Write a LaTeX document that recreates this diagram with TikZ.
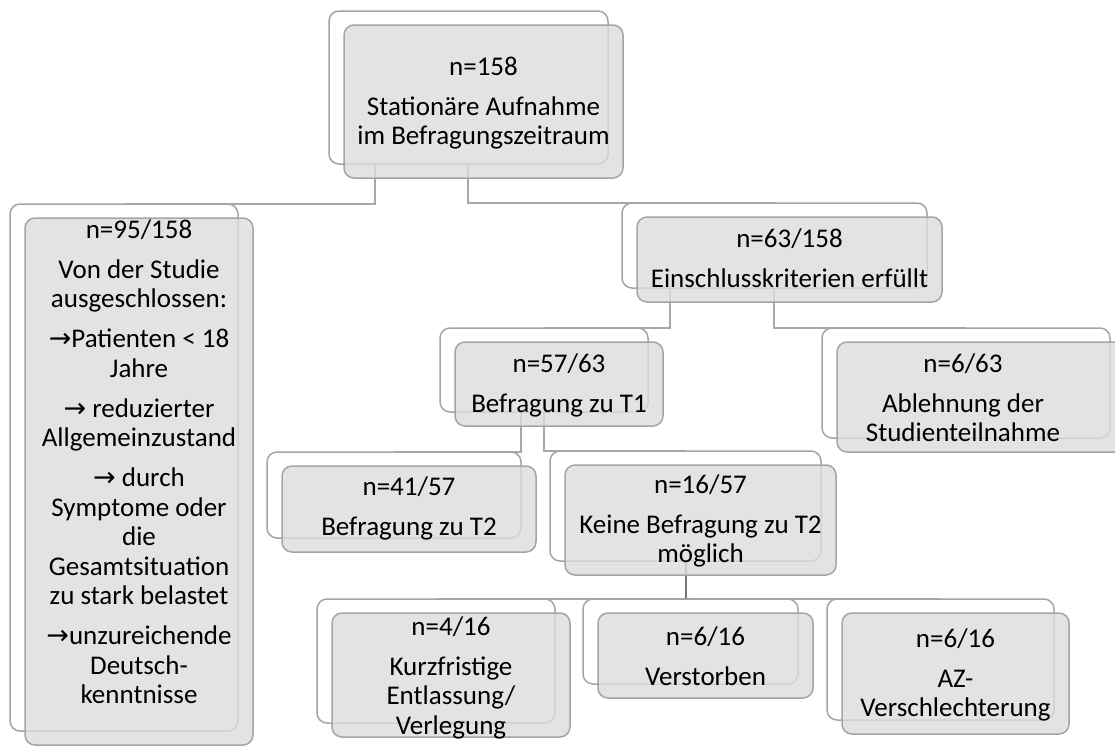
\documentclass[tikz,border=0pt]{standalone}
\usepackage{fontspec}
\setmainfont{Carlito}
\newfontfamily\arrfont{DejaVu Sans}
\pgfdeclarelayer{canvas}
\pgfdeclarelayer{bg}
\pgfsetlayers{canvas,bg,main}
\definecolor{bordergray}{HTML}{A5A5A5}
\definecolor{fillgray}{HTML}{DCDCDC}
\definecolor{conngray}{HTML}{6E6E6E}
\newcommand\ts{\rule{0pt}{20pt}}
\newcommand\arr{{\arrfont →}}
\tikzset{
  backbox/.style={draw=bordergray, line width=1.5pt, fill=white, rounded corners=10pt, inner sep=0pt},
  frontbox/.style={draw=bordergray, line width=1.5pt, fill=fillgray, fill opacity=0.8, rounded corners=10pt, inner sep=0pt},
  conn/.style={draw=conngray, draw opacity=0.6, line width=2pt},
  txt/.style={font=\fontsize{27}{29.5}\selectfont, align=center, inner sep=0pt, anchor=north, text=black}
}
% name, x1, y1, x2, y2 of the front box (pixels, y downwards)
\newcommand\boxpair[5]{%
  \node[backbox, minimum width={(#4-#2)*1pt}, minimum height={(#5-#3)*1pt}] (#1b) at ({(#2+#4)/2-15},{(#3+#5)/2-14}) {};
  \node[frontbox, minimum width={(#4-#2)*1pt}, minimum height={(#5-#3)*1pt}] (#1) at ({(#2+#4)/2},{(#3+#5)/2}) {};
}
\begin{document}
\begin{tikzpicture}[x=1pt, y=-1pt]
\useasboundingbox (0,0) rectangle (1115,747);
\begin{pgfonlayer}{canvas}
\fill[white] (0,0) rectangle (1115,747);
\end{pgfonlayer}
\clip (0,0) rectangle (1115,747);

\boxpair{A}{344}{25}{623}{178}
\boxpair{B}{25}{218}{253}{745}
\boxpair{C}{637}{217}{942}{302}
\boxpair{D}{455}{342}{663}{426}
\boxpair{E}{837}{342}{1125}{452}
\boxpair{F}{282}{466}{536}{552}
\boxpair{G}{565}{465}{836}{575}
\boxpair{H}{332}{613}{570}{737}
\boxpair{I}{598}{613}{813}{698}
\boxpair{J}{842}{613}{1069}{734}

\node[txt] (At) at (483.5,55) {\ts n=158\\[10.5pt]Stationäre Aufnahme\\im Befragungszeitraum};
\node[txt] (Bt) at (139,218) {\ts n=95/158\\[10.5pt]Von der Studie\\ausgeschlossen:\\[10.5pt]\arr Patienten < 18\\Jahre\\[10.5pt]\arr{} reduzierter\\Allgemeinzustand\\[10.5pt]\arr{} durch\\Symptome oder\\die\\Gesamtsituation\\zu stark belastet\\[10.5pt]\arr unzureichende\\Deutsch-\\kenntnisse};
\node[txt] (Ct) at (789.5,227) {\ts n=63/158\\[10.5pt]Einschlusskriterien erfüllt};
\node[txt] (Dt) at (559,352) {\ts n=57/63\\[10.5pt]Befragung zu T1};
\node[txt] (Et) at (963,352) {\ts n=6/63\\[10.5pt]Ablehnung der\\Studienteilnahme};
\node[txt] (Ft) at (409,475) {\ts n=41/57\\[10.5pt]Befragung zu T2};
\node[txt] (Gt) at (700.5,473) {\ts n=16/57\\[10.5pt]Keine Befragung zu T2\\möglich};
\node[txt] (Ht) at (451,615) {\ts n=4/16\\[10.5pt]Kurzfristige\\Entlassung/\\Verlegung};
\node[txt] (It) at (705.5,625) {\ts n=6/16\\[10.5pt]Verstorben};
\node[txt] (Jt) at (955.5,627) {\ts n=6/16\\[10.5pt]AZ-\\Verschlechterung};

\begin{pgfonlayer}{bg}
\draw[conn] (Ab.south -| 375,0) |- ([yshift=-1pt]Bb.north);
\draw[conn] (Ab.south -| 468,0) |- ([yshift=-1pt]Cb.north);
\draw[conn] (Cb.south -| 670,0) |- ([yshift=-1pt]Db.north);
\draw[conn] (Cb.south -| 774,0) |- ([yshift=-1pt]Eb.north);
\draw[conn] (Db.south -| 521,0) |- ([yshift=-1pt]Fb.north);
\draw[conn] (Db.south -| 544,0) |- ([yshift=-1pt]Gb.north);
\draw[conn] (Gb.south -| 686,0) |- ([yshift=-1pt]Hb.north);
\draw[conn] (Gb.south -| 686,0) |- ([yshift=-1pt]Ib.north);
\draw[conn] (Gb.south -| 686,0) |- ([yshift=-1pt]Jb.north);
\end{pgfonlayer}
\end{tikzpicture}
\end{document}
